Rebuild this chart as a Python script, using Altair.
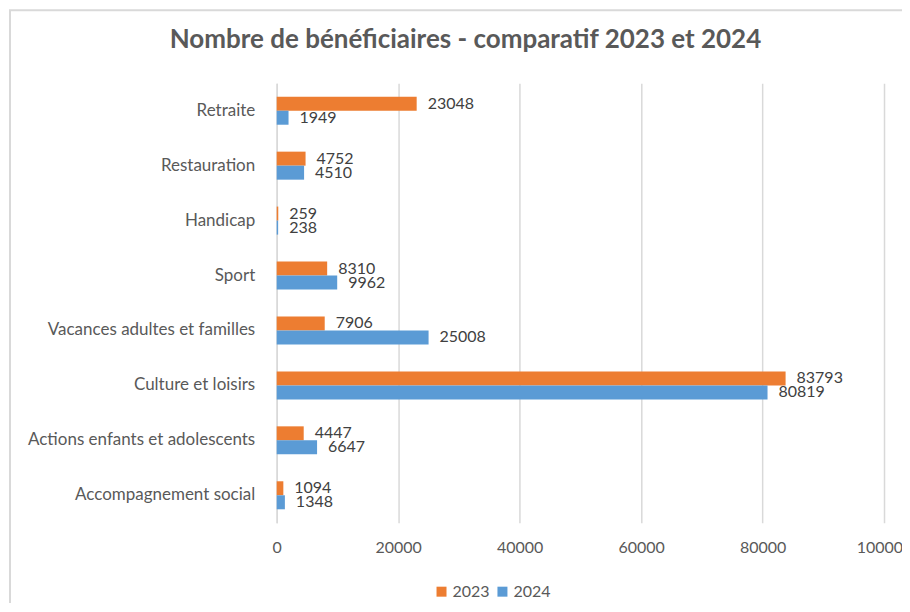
import altair as alt
import pandas as pd

categories = [
    "Retraite",
    "Restauration ",
    "Handicap",
    "Sport",
    "Vacances adultes et familles",
    "Culture et loisirs",
    "Actions enfants et adolescents",
    "Accompagnement social",
]
values_2023 = [23048, 4752, 259, 8310, 7906, 83793, 4447, 1094]
values_2024 = [1949, 4510, 238, 9962, 25008, 80819, 6647, 1348]
years = ["2023", "2024"]
colors = ["#ED7D31", "#5B9BD5"]
x_ticks = [0, 20000, 40000, 60000, 80000, 100000]

rows = []
for c, a, b in zip(categories, values_2023, values_2024):
    rows.append({"cat": c, "year": "2023", "value": a})
    rows.append({"cat": c, "year": "2024", "value": b})
df = pd.DataFrame(rows)

FONT = "Lato"
GRAY = "#595959"

y_enc = alt.Y(
    "cat:N",
    sort=categories,
    scale=alt.Scale(paddingInner=0.49, paddingOuter=0.245),
    axis=alt.Axis(
        title=None, ticks=False, domain=True, domainColor="#d9d9d9", domainWidth=1.5,
        labelFontSize=17, labelColor=GRAY, labelFont=FONT, labelPadding=22,
        labelLimit=300,
    ),
)
yoff = alt.YOffset("year:N", sort=years, scale=alt.Scale(paddingInner=0, paddingOuter=0))
x_enc = alt.X(
    "value:Q",
    scale=alt.Scale(domain=[0, 100000], nice=False),
    axis=alt.Axis(
        title=None, values=x_ticks, format="d", ticks=False, domain=False,
        grid=True, gridColor="#d9d9d9", gridWidth=1.5,
        labelFontSize=16, labelColor=GRAY, labelFont=FONT, labelPadding=17,
        labelOverlap=False, labelFlush=False,
    ),
)

bars = alt.Chart(df).mark_bar().encode(
    y=y_enc,
    yOffset=yoff,
    x=x_enc,
    color=alt.Color(
        "year:N",
        sort=years,
        scale=alt.Scale(domain=years, range=colors),
        legend=alt.Legend(
            title=None, orient="none", legendX=157, legendY=501,
            direction="horizontal", symbolType="square", symbolSize=100,
            symbolStrokeWidth=0, labelFontSize=16, labelColor=GRAY, labelFont=FONT,
            columnPadding=4, labelOffset=3,
        ),
    ),
)

labels = alt.Chart(df).mark_text(
    align="left", baseline="middle", dx=11, fontSize=16, color="#404040", font=FONT
).encode(
    y=alt.Y("cat:N", sort=categories),
    yOffset=alt.YOffset("year:N", sort=years),
    x=alt.X("value:Q"),
    text=alt.Text("value:Q", format="d"),
)

border = alt.Chart(pd.DataFrame({"a": [0]})).mark_rect(
    fill=None, stroke="#d9d9d9", strokeWidth=2
).encode(
    x=alt.value(-267), x2=alt.value(700), y=alt.value(-73), y2=alt.value(600)
)

chart = alt.layer(border, bars, labels).properties(
    width=608,
    height=440,
    autosize=alt.AutoSizeParams(type="none"),
    padding={"left": 269, "top": 75, "right": 18, "bottom": 80},
    title=alt.Title(
        "Nombre de bénéficiaires - comparatif 2023 et 2024",
        anchor="middle", frame="group", dx=-115, offset=-44, baseline="top",
        fontSize=26, font=FONT, fontWeight="bold", color=GRAY,
    ),
).configure_view(stroke=None)

chart.save("out.html", embed_options={"renderer": "svg", "actions": False})
